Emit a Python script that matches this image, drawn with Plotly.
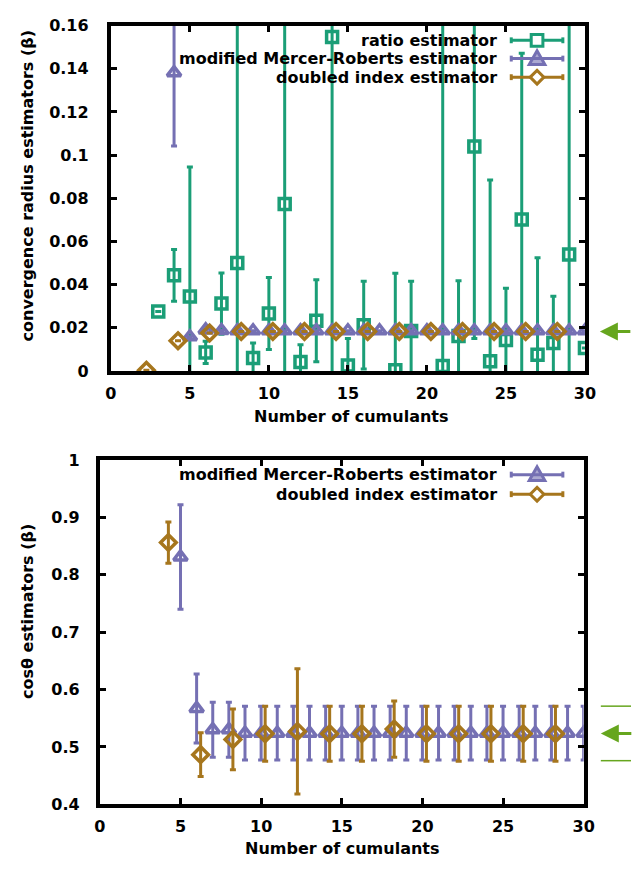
import plotly.graph_objects as go

# ---------------- data ----------------
# top panel: convergence radius estimators
ratio_n = [3, 4, 5, 6, 7, 8, 9, 10, 11, 12, 13, 14, 15, 16, 18, 19, 21, 22, 23, 24, 25, 26, 27, 28, 29, 30]
ratio_val = [0.0275, 0.0443, 0.0345, 0.0086, 0.0312, 0.0500, 0.0060, 0.0266, 0.0774, 0.0041, 0.0233, 0.1547,
             0.0025, 0.0212, 0.0003, 0.0185, 0.0023, 0.0162, 0.1040, 0.0045, 0.0143, 0.0702, 0.0075, 0.0130,
             0.0540, 0.0106]
ratio_err = [0.0, 0.0120, 0.0600, 0.0052, 0.0142, 0.2500, 0.0070, 0.0167, 0.2500, 0.0080, 0.0190, 0.2500,
             0.0125, 0.0203, 0.0450, 0.0230, 0.2500, 0.0256, 0.0890, 0.0840, 0.0240, 0.0770, 0.0450, 0.0216,
             0.2500, 0.0]

mmr_n_top = [4, 5, 6, 7, 8, 9, 10, 11, 12, 13, 14, 15, 16, 17, 18, 19, 20, 21, 22, 23, 24, 25, 26, 27, 28, 29, 30]
mmr_val_top = [0.1382, 0.0158, 0.0190, 0.0187, 0.0186, 0.0186, 0.0186, 0.0186, 0.0186, 0.0186, 0.0186, 0.0186,
               0.0186, 0.0186, 0.0186, 0.0186, 0.0186, 0.0186, 0.0186, 0.0186, 0.0186, 0.0186, 0.0186, 0.0186,
               0.0186, 0.0186, 0.0186]
mmr_err_top = [0.034, 0.0, 0.0, 0.0, 0.0, 0.0, 0.0, 0.0, 0.0, 0.0, 0.0, 0.0, 0.0, 0.0, 0.0, 0.0, 0.0, 0.0,
               0.0, 0.0, 0.0, 0.0, 0.0, 0.0, 0.0, 0.0, 0.0]

di_n_top = [2, 4, 6, 8, 10, 12, 14, 16, 18, 20, 22, 24, 26, 28]
di_val_top = [0.0003, 0.0140, 0.0176, 0.0183, 0.0183, 0.0183, 0.0183, 0.0183, 0.0183, 0.0183, 0.0183, 0.0183,
              0.0183, 0.0183]
di_err_top = [0.0] * 14

ref_radius = 0.0183

# bottom panel: cos(theta) estimators
mmr_n_bot = [5, 6, 7, 8, 9, 10, 11, 12, 13, 14, 15, 16, 17, 18, 19, 20, 21, 22, 23, 24, 25, 26, 27, 28, 29, 30]
mmr_val_bot = [0.831, 0.567, 0.530, 0.530, 0.524, 0.524, 0.524, 0.524, 0.524, 0.524, 0.524, 0.524, 0.524,
               0.524, 0.524, 0.524, 0.524, 0.524, 0.524, 0.524, 0.524, 0.524, 0.524, 0.524, 0.524, 0.524]
mmr_err_bot = [0.091, 0.060, 0.048, 0.048, 0.047, 0.047, 0.047, 0.047, 0.047, 0.047, 0.047, 0.047, 0.047,
               0.047, 0.047, 0.047, 0.047, 0.047, 0.047, 0.047, 0.047, 0.047, 0.047, 0.047, 0.047, 0.047]

di_n_bot = [4, 6, 8, 10, 12, 14, 16, 18, 20, 22, 24, 26, 28]
di_val_bot = [0.856, 0.4865, 0.513, 0.523, 0.527, 0.523, 0.523, 0.531, 0.523, 0.523, 0.523, 0.523, 0.523]
di_err_bot = [0.036, 0.038, 0.053, 0.048, 0.109, 0.048, 0.048, 0.049, 0.048, 0.048, 0.048, 0.048, 0.048]

ref_cos = 0.5235
ref_cos_band = [0.476, 0.571]

x_ticks = [0, 5, 10, 15, 20, 25, 30]
y_ticks_top = [0, 0.02, 0.04, 0.06, 0.08, 0.1, 0.12, 0.14, 0.16]
y_ticklabels_top = ["0", "0.02", "0.04", "0.06", "0.08", "0.1", "0.12", "0.14", "0.16"]
y_ticks_bot = [0.4, 0.5, 0.6, 0.7, 0.8, 0.9, 1.0]
y_ticklabels_bot = ["0.4", "0.5", "0.6", "0.7", "0.8", "0.9", "1"]

labels = ["ratio estimator", "modified Mercer-Roberts estimator", "doubled index estimator"]

# ---------------- style ----------------
W, H = 642, 872
C_RATIO = "#1B9E77"
C_MMR = "#7570B3"
C_DI = "#A6761D"
C_REF = "#66A61E"
DI_OFFSET = 0.25
FONT = "DejaVu Sans"


def px(x):
    return x / W


def py(y):
    return 1 - y / H


def trace(xs, ys, errs, color, symbol, size, xa, ya, offset=0.0):
    return go.Scatter(
        x=[v + offset for v in xs], y=ys, mode="markers",
        xaxis=xa, yaxis=ya, showlegend=False, cliponaxis=True,
        marker=dict(symbol=symbol, size=size, color=color, line=dict(width=3.5, color=color)),
        error_y=dict(type="data", array=errs, symmetric=True, color=color, thickness=3, width=3),
    )


fig = go.Figure()
fig.add_trace(trace(ratio_n, ratio_val, ratio_err, C_RATIO, "square-open", 11, "x", "y"))
fig.add_trace(trace(mmr_n_top, mmr_val_top, mmr_err_top, C_MMR, "triangle-up-open", 12, "x", "y"))
fig.add_trace(trace(di_n_top, di_val_top, di_err_top, C_DI, "diamond-open", 12, "x", "y", DI_OFFSET))
fig.add_trace(trace(mmr_n_bot, mmr_val_bot, mmr_err_bot, C_MMR, "triangle-up-open", 12, "x2", "y2"))
fig.add_trace(trace(di_n_bot, di_val_bot, di_err_bot, C_DI, "diamond-open", 12, "x2", "y2", DI_OFFSET))

# panel geometry (pixels)
TOP = dict(l=107.7, r=594.7, t=17, b=370)
BOT = dict(l=96.4, r=593.4, t=461, b=813)

tickfont = dict(family=FONT, size=16, color="black", weight="bold")


def xaxis(dom, anchor):
    return dict(domain=[px(dom["l"]), px(dom["r"])], anchor=anchor, range=[0, 30],
                tickvals=x_ticks, ticks="inside", ticklen=6, tickwidth=3, tickcolor="black",
                mirror="allticks", showline=True, linewidth=4, linecolor="black",
                showgrid=False, zeroline=False, tickfont=tickfont, ticklabelstandoff=5)


def yaxis(dom, anchor, rng, tv, tt, standoff):
    return dict(domain=[py(dom["b"]), py(dom["t"])], anchor=anchor, range=rng,
                tickvals=tv, ticktext=tt, ticks="inside", ticklen=6, tickwidth=3, tickcolor="black",
                mirror="allticks", showline=True, linewidth=4, linecolor="black",
                showgrid=False, zeroline=False, tickfont=tickfont, ticklabelstandoff=standoff)


annotations = []
shapes = []


def text(x, y, s, angle=0, xanchor="center", size=16):
    annotations.append(dict(x=px(x), y=py(y), xref="paper", yref="paper", text=s, showarrow=False,
                            textangle=angle, xanchor=xanchor, yanchor="middle",
                            font=dict(family=FONT, size=size, color="black", weight="bold")))


text(22, 181, "convergence radius estimators (β)", angle=-90)
text(355, 417, "Number of cumulants")
text(22, 616, "cosθ estimators (β)", angle=-90)
text(346, 858, "Number of cumulants")


def legend_row(y, label, color, symbol):
    text(506.7, y, label, xanchor="right")
    x0, x1, xc = 519, 572, 545.5
    shapes.append(dict(type="line", xref="paper", yref="paper", x0=px(x0), x1=px(x1), y0=py(y), y1=py(y),
                       line=dict(color=color, width=3)))
    for xe in (x0, x1):
        shapes.append(dict(type="line", xref="paper", yref="paper", x0=px(xe), x1=px(xe),
                           y0=py(y - 3), y1=py(y + 3), line=dict(color=color, width=3)))
    if symbol == "square":
        shapes.append(dict(type="rect", xref="paper", yref="paper", x0=px(xc - 6), x1=px(xc + 6),
                           y0=py(y + 6), y1=py(y - 6), line=dict(color=color, width=3), fillcolor="white"))
    elif symbol == "triangle":
        path = "M {} {} L {} {} L {} {} Z".format(px(xc - 8), py(y + 6), px(xc + 8), py(y + 6), px(xc), py(y - 8))
        shapes.append(dict(type="path", xref="paper", yref="paper", path=path,
                           line=dict(color=color, width=3), fillcolor="rgba(117,112,179,0.6)"))
    else:
        path = "M {} {} L {} {} L {} {} L {} {} Z".format(px(xc - 7), py(y), px(xc), py(y - 7),
                                                          px(xc + 7), py(y), px(xc), py(y + 7))
        shapes.append(dict(type="path", xref="paper", yref="paper", path=path,
                           line=dict(color=color, width=3), fillcolor="white"))


legend_row(32, labels[0], C_RATIO, "square")
legend_row(50.7, labels[1], C_MMR, "triangle")
legend_row(69.7, labels[2], C_DI, "diamond")
legend_row(476, labels[1], C_MMR, "triangle")
legend_row(496, labels[2], C_DI, "diamond")

# reference arrows (right of panels)
annotations.append(dict(x=px(610), y=ref_radius, xref="paper", yref="y", text="", showarrow=True,
                        ax=32, ay=0, arrowhead=2, arrowsize=1.2, arrowwidth=3, arrowcolor=C_REF))
annotations.append(dict(x=px(611), y=ref_cos, xref="paper", yref="y2", text="", showarrow=True,
                        ax=32, ay=0, arrowhead=2, arrowsize=1.2, arrowwidth=3, arrowcolor=C_REF))
for v in ref_cos_band:
    shapes.append(dict(type="line", xref="paper", yref="y2", x0=px(611), x1=1.0, y0=v, y1=v,
                       line=dict(color=C_REF, width=1.5)))

fig.update_layout(
    width=W, height=H, margin=dict(l=0, r=0, t=0, b=0),
    paper_bgcolor="white", plot_bgcolor="white", showlegend=False,
    xaxis=xaxis(TOP, "y"),
    yaxis=yaxis(TOP, "x", [0, 0.16], y_ticks_top, y_ticklabels_top, 15),
    xaxis2=xaxis(BOT, "y2"),
    yaxis2=yaxis(BOT, "x2", [0.4, 1.0], y_ticks_bot, y_ticklabels_bot, 13),
    annotations=annotations, shapes=shapes,
)

fig.write_html("out.html")
